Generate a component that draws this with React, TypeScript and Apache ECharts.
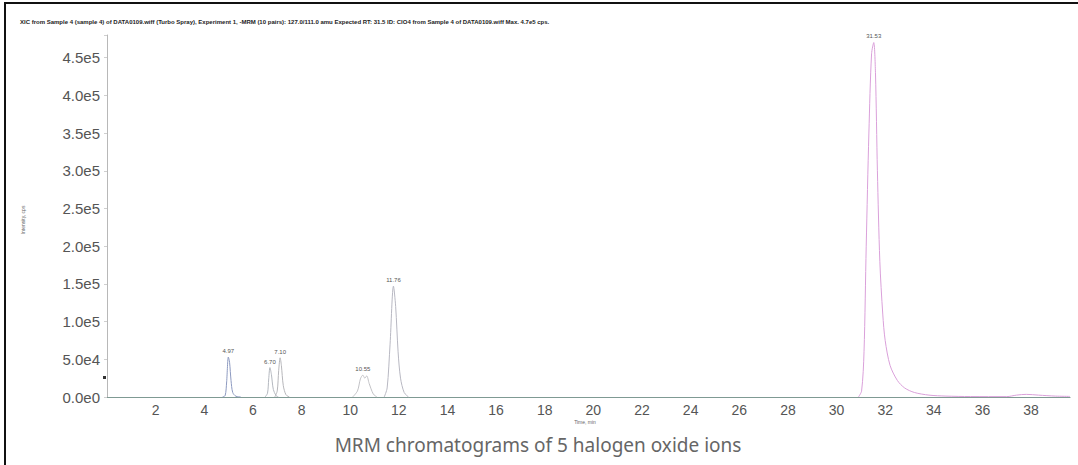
import React, { useEffect, useRef } from "react";
import * as echarts from "echarts";

// Tick labels
const xTickValues = [2, 4, 6, 8, 10, 12, 14, 16, 18, 20, 22, 24, 26, 28, 30, 32, 34, 36, 38];
const yTickValues = [0, 50000, 100000, 150000, 200000, 250000, 300000, 350000, 400000, 450000];

// Peak labels (retention times)
const peakNames = ["4.97", "6.70", "7.10", "10.55", "11.76", "31.53"];

// Traces: [time (min), intensity (cps)]
const peak497 = [[4.75, 0], [4.86, 2000], [4.92, 20000], [4.99, 53000], [5.04, 46000], [5.1, 22000], [5.17, 6000], [5.3, 1000], [5.5, 0]];
const peak670 = [[6.5, 0], [6.6, 5000], [6.65, 24000], [6.7, 39000], [6.76, 30000], [6.84, 10000], [6.95, 2000], [7.05, 0]];
const peak710 = [[6.9, 0], [7.0, 8000], [7.06, 35000], [7.12, 52000], [7.17, 42000], [7.25, 15000], [7.36, 3000], [7.5, 0]];
const peak1055 = [[10.1, 0], [10.3, 8000], [10.42, 24000], [10.52, 29000], [10.6, 25000], [10.68, 28000], [10.78, 18000], [10.95, 4000], [11.1, 0]];
const peak1176 = [[11.4, 0], [11.52, 12000], [11.64, 70000], [11.78, 147000], [11.87, 120000], [11.97, 60000], [12.07, 25000], [12.22, 6000], [12.4, 0]];
const peak3153 = [[30.9, 0], [31.03, 8000], [31.13, 60000], [31.22, 200000], [31.33, 350000], [31.44, 455000], [31.53, 470000], [31.6, 430000], [31.68, 300000], [31.78, 180000], [31.9, 110000], [32.0, 75000], [32.2, 42000], [32.5, 22000], [32.8, 12000], [33.2, 6000], [33.8, 2500], [34.5, 1200], [35.5, 600], [37.0, 500], [37.4, 2500], [37.8, 3500], [38.3, 2500], [39.0, 1200], [39.6, 800]];

const traces = [peak497, peak670, peak710, peak1055, peak1176, peak3153];
const traceColors = ["#8d9ac0", "#b4b8bf", "#b6b6ba", "#c2c2c6", "#b8b8c2", "#daa0da"];

function fmtSci(v: number): string {
  if (v === 0) return "0.0e0";
  const e = Math.floor(Math.log10(v) + 1e-9);
  const m = v / Math.pow(10, e);
  return `${m.toFixed(1)}e${e}`;
}

export default function App() {
  const ref = useRef<HTMLDivElement>(null);
  useEffect(() => {
    if (!ref.current) return;
    const chart = echarts.init(ref.current, null, { renderer: "svg" });
    const series = traces.map((tr, i) => {
      let apex = 0;
      tr.forEach((p, j) => {
        if (p[1] > tr[apex][1]) apex = j;
      });
      return {
        type: "line",
        name: peakNames[i],
        symbol: "none",
        smooth: 0.3,
        lineStyle: { width: 1, color: traceColors[i] },
        data: tr.map((p, j) =>
          j === apex
            ? {
                value: p,
                symbol: "circle",
                symbolSize: 0.1,
                label: {
                  show: true,
                  position: "top",
                  distance: 3,
                  formatter: peakNames[i],
                  fontSize: 6,
                  color: "#555",
                  fontFamily: "Liberation Sans",
                },
              }
            : p
        ),
      };
    });
    chart.setOption({
      animation: false,
      backgroundColor: "#ffffff",
      grid: { left: 107, right: 8, top: 35, bottom: 68 },
      xAxis: {
        type: "value",
        min: 0,
        max: 39.6,
        interval: 2,
        axisLine: { show: true, lineStyle: { color: "#7f9a93", width: 1.2 } },
        axisTick: { show: false },
        splitLine: { show: false },
        axisLabel: {
          color: "#555",
          fontSize: 14,
          fontFamily: "Liberation Sans",
          margin: 6,
          formatter: (v: number) => (xTickValues.includes(Math.round(v * 100) / 100) ? String(v) : ""),
        },
      },
      yAxis: {
        type: "value",
        min: 0,
        max: 480000,
        interval: 50000,
        axisLine: { show: true, lineStyle: { color: "#b8b8b8", width: 1 } },
        axisTick: { show: true, length: 3, lineStyle: { color: "#cfcfcf" } },
        splitLine: { show: false },
        axisLabel: {
          color: "#555",
          fontSize: 15,
          fontFamily: "Liberation Sans",
          margin: 7,
          formatter: (v: number) => (yTickValues.includes(v) ? fmtSci(v) : ""),
        },
      },
      series,
      graphic: [
        { type: "rect", shape: { x: 4, y: 2, width: 2, height: 463 }, style: { fill: "#111" } },
        { type: "rect", shape: { x: 4, y: 2, width: 1074, height: 2 }, style: { fill: "#111" } },
        {
          type: "text",
          x: 20,
          y: 19,
          style: {
            text: "XIC from Sample 4 (sample 4) of DATA0109.wiff (Turbo Spray), Experiment 1, -MRM (10 pairs): 127.0/111.0 amu Expected RT: 31.5 ID: ClO4 from Sample 4 of DATA0109.wiff Max. 4.7e5 cps.",
            fontSize: 6,
            fontWeight: "bold",
            fill: "#222",
            fontFamily: "Liberation Sans",
          },
        },
        {
          type: "text",
          x: 23,
          y: 220,
          rotation: Math.PI / 2,
          style: {
            text: "Intensity, cps",
            fontSize: 5,
            fill: "#666",
            align: "center",
            verticalAlign: "middle",
            fontFamily: "Liberation Sans",
          },
        },
        {
          type: "text",
          x: 585,
          y: 422,
          style: {
            text: "Time, min",
            fontSize: 5,
            fill: "#666",
            align: "center",
            verticalAlign: "middle",
            fontFamily: "Liberation Sans",
          },
        },
        { type: "rect", shape: { x: 103, y: 376, width: 3, height: 3 }, style: { fill: "#333" } },
        {
          type: "text",
          x: 538,
          y: 445,
          style: {
            text: "MRM chromatograms of 5 halogen oxide ions",
            fontSize: 19,
            fill: "#666",
            align: "center",
            verticalAlign: "middle",
            fontFamily: "Noto Sans",
          },
        },
      ],
    });
    return () => chart.dispose();
  }, []);
  return <div ref={ref} style={{ width: 1078, height: 465, position: "absolute", left: 0, top: 0 }} />;
}
